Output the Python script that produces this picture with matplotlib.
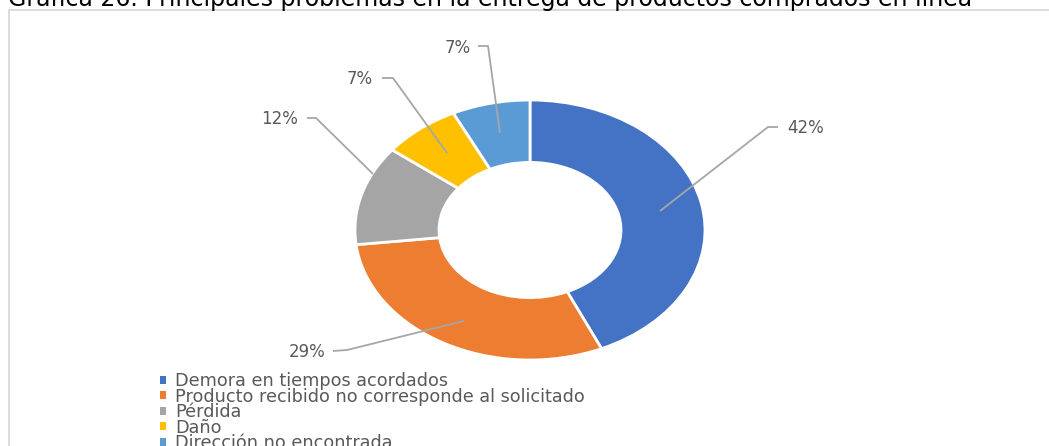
import matplotlib.pyplot as plt
from matplotlib.patches import Rectangle, Patch

plt.rcParams["font.family"] = ["DejaVu Sans"]

# Datos de la gráfica
categorias = [
    "Demora en tiempos acordados",
    "Producto recibido no corresponde al solicitado",
    "Pérdida",
    "Daño",
    "Dirección no encontrada",
]
porcentajes = [42, 29, 12, 7, 7]
colores = ["#4472C4", "#ED7D31", "#A5A5A5", "#FFC000", "#5B9BD5"]
titulo = "Gráfica 26. Principales problemas en la entrega de productos comprados en línea"

W, H = 1049, 446
fig = plt.figure(figsize=(W / 100, H / 100), dpi=100)
fig.patch.set_facecolor("white")

# Marco gris del área del gráfico
fig.patches.append(Rectangle((9 / W, -0.2), 1.2, 1.2 - 9.5 / H,
                             transform=fig.transFigure, fill=False,
                             edgecolor="#D9D9D9", linewidth=1.3))

fig.text(8 / W, 1 - 6 / H, titulo, fontsize=17, color="black",
         ha="left", va="baseline")

# Dona (ligeramente ensanchada en horizontal)
cx, cy, rx, ry = 530, 230, 175, 130
ax = fig.add_axes([(cx - rx) / W, (H - cy - ry) / H, 2 * rx / W, 2 * ry / H])
ax.pie(porcentajes, colors=colores, startangle=90, counterclock=False,
       wedgeprops=dict(width=0.48, edgecolor="white", linewidth=2))
ax.set_aspect("auto")
ax.set_xlim(-1, 1)
ax.set_ylim(-1, 1)
ax.axis("off")


def px(x, y):
    # pixel de la figura -> coordenadas de la dona
    return (x - cx) / rx, (cy - y) / ry


# Líneas guía: punto en la cuña, codo, extremo junto a la etiqueta
guias = [
    [(660, 211), (768, 127), (778, 127)],
    [(464, 321), (347, 350), (333, 351)],
    [(373, 174), (316, 118), (307, 118)],
    [(447, 153), (393, 78), (382, 78)],
    [(500, 133), (488, 46), (478, 46)],
]
pos_etiquetas = [(787, 128, "left"), (326, 352, "right"), (298, 119, "right"),
                 (373, 79, "right"), (471, 48, "right")]

for val, guia, (tx, ty, ha) in zip(porcentajes, guias, pos_etiquetas):
    pts = [px(*p) for p in guia]
    ax.plot([p[0] for p in pts], [p[1] for p in pts], color="#A6A6A6",
            linewidth=1.3, clip_on=False, solid_capstyle="butt")
    lx, ly = px(tx, ty)
    ax.text(lx, ly, f"{val}%", fontsize=12, color="#595959", ha=ha,
            va="center", clip_on=False)

# Leyenda
handles = [Patch(facecolor=c, edgecolor="none") for c in colores]
fig.legend(handles, categorias, loc="upper left",
           bbox_to_anchor=(160 / W, 1 - 372 / H), frameon=False,
           fontsize=12.7, labelcolor="#595959", handlelength=0.35,
           handleheight=0.35, handletextpad=0.5, labelspacing=-0.14,
           borderpad=0, borderaxespad=0)

fig.savefig("out.png", dpi=100, facecolor="white")
